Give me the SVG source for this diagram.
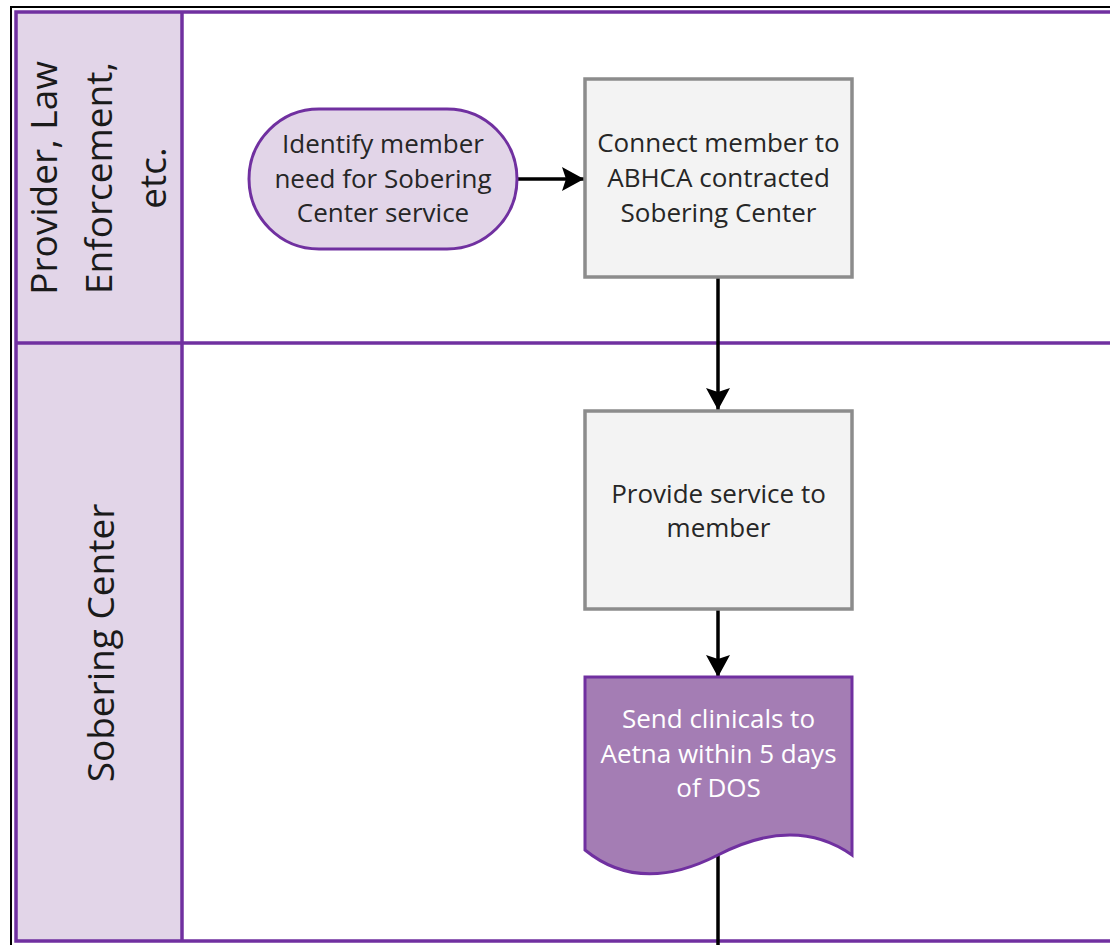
<svg xmlns="http://www.w3.org/2000/svg" width="1110" height="945" viewBox="0 0 1110 945">
<defs>
<style>
.lane{fill:#E2D5E8;stroke:none}
.pl{stroke:#7030A0;stroke-width:3.5;fill:none}
.lbl{font-family:"Open Sans","Noto Sans",sans-serif;font-size:37px;fill:#1a1a1a;text-anchor:middle}
.t{font-family:"Open Sans","Noto Sans",sans-serif;font-size:26px;fill:#262626;text-anchor:middle}
.tw{font-family:"Open Sans","Noto Sans",sans-serif;font-size:26px;fill:#ffffff;text-anchor:middle}
.proc{fill:#F3F3F3;stroke:#8C8C8C;stroke-width:3.5}
.term{fill:#E2D5E8;stroke:#7030A0;stroke-width:3}
.doc{fill:#A47DB4;stroke:#7030A0;stroke-width:3}
.con{stroke:#000;stroke-width:3.5;fill:none}
</style>
<marker id="ah" markerUnits="userSpaceOnUse" markerWidth="24" markerHeight="26" refX="22" refY="12" orient="auto" viewBox="0 0 24 24">
<path d="M0,0 L22,12 L0,24 L4,12 Z" fill="#000"/>
</marker>
</defs>
<rect width="1110" height="945" fill="#fff"/>
<g id="frame">
<path d="M11,945 V7 H1110" stroke="#000" stroke-width="2" fill="none"/>
<rect class="lane" x="16" y="12" width="166" height="929"/>
<path class="pl" d="M1110,12 H16 V941 H1110"/>
<path class="pl" d="M182,12 V941"/>
<path class="pl" d="M16,343 H1110"/>
</g>
<g id="lane1-label">
<text class="lbl" transform="translate(57,178) rotate(-90)">Provider, Law</text>
<text class="lbl" transform="translate(112,178) rotate(-90)">Enforcement,</text>
<text class="lbl" transform="translate(166,178) rotate(-90)">etc.</text>
</g>
<g id="lane2-label">
<text class="lbl" transform="translate(114,643) rotate(-90)">Sobering Center</text>
</g>
<g id="connectors">
<path class="con" d="M518,179 H584" marker-end="url(#ah)"/>
<path class="con" d="M718,277 V410" marker-end="url(#ah)"/>
<path class="con" d="M718,609 V677" marker-end="url(#ah)"/>
<path class="con" d="M718,855 V945"/>
</g>
<g id="n-identify">
<rect class="term" x="249" y="109" width="268" height="140" rx="70" ry="70"/>
<text class="t" x="383" y="153">Identify member</text>
<text class="t" x="383" y="187.5">need for Sobering</text>
<text class="t" x="383" y="222">Center service</text>
</g>
<g id="n-connect">
<rect class="proc" x="585" y="79" width="267" height="198"/>
<text class="t" x="718.5" y="152">Connect member to</text>
<text class="t" x="718.5" y="187">ABHCA contracted</text>
<text class="t" x="718.5" y="222">Sobering Center</text>
</g>
<g id="n-provide">
<rect class="proc" x="585" y="411" width="267" height="198"/>
<text class="t" x="718.5" y="503">Provide service to</text>
<text class="t" x="718.5" y="537">member</text>
</g>
<g id="n-send">
<path class="doc" d="M585,677 H852 V855 Q795,815 718,855 Q640,895 585,850 Z"/>
<text class="tw" x="718.5" y="728">Send clinicals to</text>
<text class="tw" x="718.5" y="763">Aetna within 5 days</text>
<text class="tw" x="718.5" y="797">of DOS</text>
</g>
</svg>
